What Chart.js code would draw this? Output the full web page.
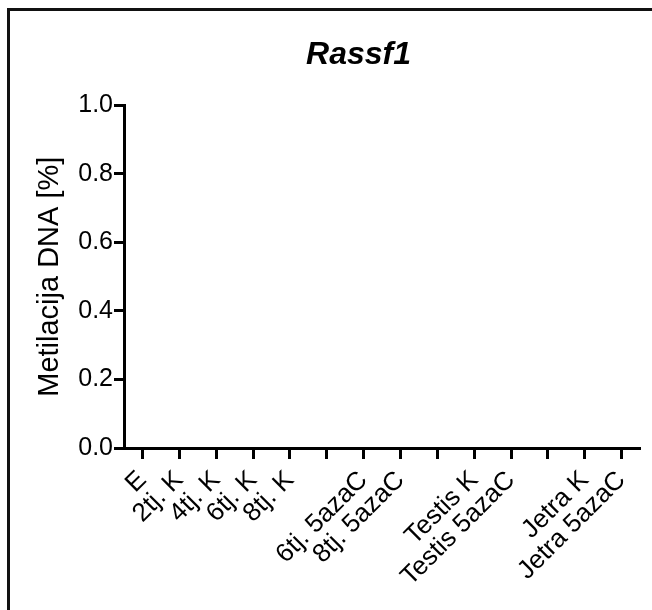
<!DOCTYPE html>
<html>
<head>
<meta charset="utf-8">
<script src="https://cdn.jsdelivr.net/npm/chart.js@4/dist/chart.umd.min.js"></script>
<style>
  html, body { margin: 0; padding: 0; width: 652px; height: 610px; overflow: hidden; background: #fff; }
  #frame { position: absolute; left: 7px; top: 8px; width: 700px; height: 700px; border: 3px solid #111; box-sizing: border-box; }
  #wrap { position: absolute; left: 0; top: 0; width: 717px; height: 610px; }
</style>
</head>
<body>
<div id="frame"></div>
<div id="wrap"><canvas id="c"></canvas></div>
<script>
const chartTitle = "Rassf1";
const yAxisTitle = "Metilacija DNA [%]";
const categories = ["E", "2tj. K", "4tj. K", "6tj. K", "8tj. K", "", "6tj. 5azaC", "8tj. 5azaC", "", "Testis K", "Testis 5azaC", "", "Jetra K", "Jetra 5azaC"];
// No bars are visible in the reference: every value is empty
const methylation = [null, null, null, null, null, null, null, null, null, null, null, null, null, null];
const yTicks = [0.0, 0.2, 0.4, 0.6, 0.8, 1.0];

const FONT = "Arial, 'Liberation Sans', sans-serif";

new Chart(document.getElementById('c'), {
  type: 'bar',
  data: {
    labels: categories,
    datasets: [{ label: chartTitle, data: methylation, backgroundColor: '#000', yAxisID: 'y' }]
  },
  options: {
    responsive: true,
    maintainAspectRatio: false,
    animation: false,
    layout: { padding: { left: 0, right: 0, top: 0, bottom: 0 } },
    plugins: {
      legend: { display: false },
      tooltip: { enabled: false },
      title: {
        display: true,
        text: chartTitle,
        color: '#000',
        font: { family: FONT, size: 32, weight: 'bold', style: 'italic', lineHeight: 1.2 },
        padding: { top: 36, bottom: 31 }
      }
    },
    scales: {
      x: {
        type: 'category',
        offset: true,
        grid: { display: true, offset: false, drawOnChartArea: false, drawTicks: true, tickLength: 11, tickWidth: 3, tickColor: '#000' },
        border: { display: true, color: '#000', width: 3 },
        ticks: { autoSkip: false, minRotation: 45, maxRotation: 45, color: '#000', padding: 6, font: { family: FONT, size: 26 } },
        afterFit: s => { s.height = 162; }
      },
      y: {
        type: 'linear',
        position: 'left',
        min: yTicks[0],
        max: yTicks[yTicks.length - 1],
        afterBuildTicks: s => { s.ticks = yTicks.map(v => ({ value: v })); },
        grid: { display: true, drawOnChartArea: false, drawTicks: true, tickLength: 10, tickWidth: 3, tickColor: '#000' },
        border: { display: true, color: '#000', width: 3 },
        ticks: { color: '#000', padding: 1, font: { family: FONT, size: 25 }, callback: v => Number(v).toFixed(1) },
        title: { display: true, text: yAxisTitle, color: '#000', font: { family: FONT, size: 29 }, padding: { top: 33, bottom: 0 } },
        afterFit: s => { s.width = 124; }
      },
      yRight: {
        type: 'linear',
        position: 'right',
        display: true,
        grid: { display: false },
        border: { display: false },
        ticks: { display: false },
        afterFit: s => { s.width = 77; }
      }
    }
  }
});
</script>
</body>
</html>
